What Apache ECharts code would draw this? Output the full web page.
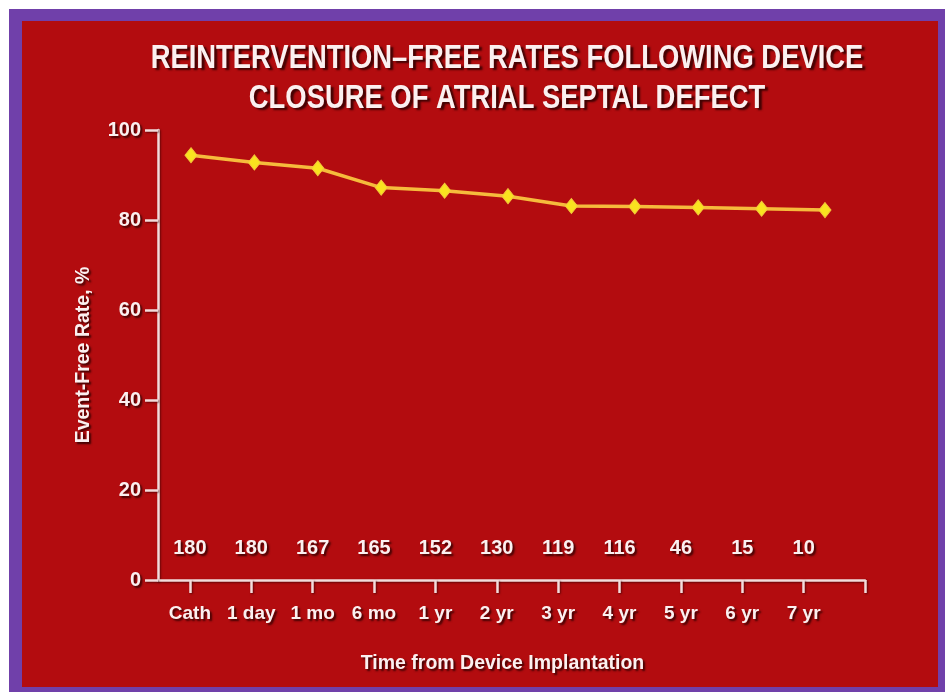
<!DOCTYPE html>
<html>
<head>
<meta charset="utf-8">
<title>Reintervention-free rates</title>
<script src="https://cdn.jsdelivr.net/npm/echarts@6/dist/echarts.min.js"></script>
<style>
  html, body { margin: 0; padding: 0; background: #ffffff; }
  #frame { position: absolute; left: 9px; top: 9px; width: 936px; height: 683px; background: #7040aa; }
  #slide { position: absolute; left: 22px; top: 21px; width: 916px; height: 666px; background: #b30c0f; }
  #chart { position: absolute; left: 0; top: 0; width: 945px; height: 692px; }
</style>
</head>
<body>
<div id="frame"></div>
<div id="slide"></div>
<div id="chart"></div>
<script>
// time points on the x axis
const categories = ["Cath", "1 day", "1 mo", "6 mo", "1 yr", "2 yr", "3 yr", "4 yr", "5 yr", "6 yr", "7 yr"];
// event-free rate, %
const eventFree = [94.4, 92.8, 91.5, 87.2, 86.5, 85.3, 83.1, 83.0, 82.8, 82.5, 82.2];
// patients at risk
const atRisk = [180, 180, 167, 165, 152, 130, 119, 116, 46, 15, 10];
const yTicks = [0, 20, 40, 60, 80, 100];
const xTickValues = [0, 1, 2, 3, 4, 5, 6, 7, 8, 9, 10, 11];
const xLabelValues = [0, 1, 2, 3, 4, 5, 6, 7, 8, 9, 10];
const titleLines = ["REINTERVENTION\u2013FREE RATES FOLLOWING DEVICE", "CLOSURE OF ATRIAL SEPTAL DEFECT"];

const FONT = '"Liberation Sans Narrow", "Arial Narrow", "Liberation Sans", Arial, sans-serif';
const TEXT = "#fbf0f0";
const LINE = "#f3dcdc";

const shadowText = {
  color: TEXT,
  fontFamily: FONT,
  fontWeight: "bold",
  textShadowColor: "rgba(45,0,0,0.85)",
  textShadowBlur: 2,
  textShadowOffsetX: 2,
  textShadowOffsetY: 2,
};

const axisLine = {
  color: LINE,
  width: 2.5,
  shadowColor: "rgba(45,0,0,0.6)",
  shadowBlur: 2,
  shadowOffsetX: 1,
  shadowOffsetY: 1,
};

// slide title, squeezed to look like the condensed face of the original
function titleText(text, y) {
  return {
    type: "text",
    x: 507,
    y: y,
    scaleX: 0.83,
    style: {
      x: 0, y: 0, text: text,
      fill: TEXT, fontFamily: FONT, fontWeight: "bold", fontSize: 33,
      align: "center", verticalAlign: "middle",
      textShadowColor: "rgba(45,0,0,0.85)", textShadowBlur: 2,
      textShadowOffsetX: 3, textShadowOffsetY: 2,
    },
  };
}

const chart = echarts.init(document.getElementById("chart"));

chart.setOption({
  animation: false,
  graphic: [titleText(titleLines[0], 59), titleText(titleLines[1], 99)],
  grid: [
    { left: 158, right: 80, top: 130, bottom: 112 },
    { left: 191, right: 120, top: 130, bottom: 112 },
  ],
  xAxis: [
    {
      gridIndex: 0,
      type: "value",
      min: -0.52,
      max: 11,
      position: "bottom",
      axisLine: { show: true, onZero: false, lineStyle: axisLine },
      axisTick: { show: true, customValues: xTickValues, length: 13, lineStyle: axisLine },
      axisLabel: Object.assign({}, shadowText, {
        customValues: xLabelValues,
        fontSize: 19,
        margin: 24,
        formatter: (v) => categories[v],
      }),
      splitLine: { show: false },
      name: "Time from Device Implantation",
      nameLocation: "middle",
      nameGap: 74,
      nameTextStyle: Object.assign({}, shadowText, { fontSize: 19.5, padding: [0, 18, 0, 0] }),
    },
    {
      gridIndex: 0,
      type: "value",
      min: -0.52,
      max: 11,
      position: "bottom",
      offset: -50,
      axisLine: { show: false },
      axisTick: { show: false },
      axisLabel: Object.assign({}, shadowText, {
        customValues: xLabelValues,
        fontSize: 20,
        margin: 8,
        formatter: (v) => String(atRisk[v]),
      }),
      splitLine: { show: false },
    },
    {
      gridIndex: 1,
      type: "category",
      data: categories,
      boundaryGap: false,
      show: false,
    },
  ],
  yAxis: [
    {
      gridIndex: 0,
      type: "value",
      min: 0,
      max: 100,
      interval: 20,
      axisLine: { show: true, onZero: false, lineStyle: axisLine },
      axisTick: { show: true, length: 13, lineStyle: axisLine },
      axisLabel: Object.assign({}, shadowText, {
        fontSize: 20,
        margin: 17,
        customValues: yTicks,
      }),
      splitLine: { show: false },
      name: "Event-Free Rate, %",
      nameLocation: "middle",
      nameGap: 64,
      nameTextStyle: Object.assign({}, shadowText, { fontSize: 19.5 }),
    },
    {
      gridIndex: 1,
      type: "value",
      min: 0,
      max: 100,
      show: false,
    },
  ],
  series: [
    {
      name: "Event-Free Rate",
      type: "line",
      xAxisIndex: 2,
      yAxisIndex: 1,
      data: eventFree,
      symbol: "diamond",
      symbolSize: [12, 15],
      lineStyle: { color: "#f6bb3c", width: 3.5 },
      itemStyle: { color: "#f9e31f", borderColor: "#f3c93a", borderWidth: 1 },
    },
  ],
});
</script>
</body>
</html>
